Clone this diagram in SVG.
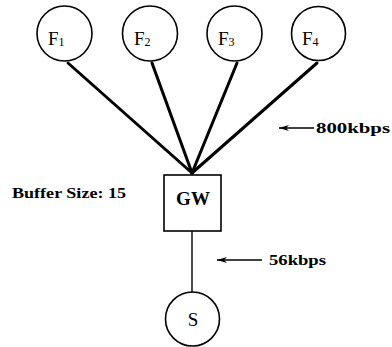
<svg xmlns="http://www.w3.org/2000/svg" width="392" height="347" viewBox="0 0 392 347">
<style>
.node{fill:#fff;stroke:#000;stroke-width:1.6}
.lbl{font-family:"Liberation Serif","DejaVu Serif",serif;font-size:19px;fill:#000}
.sub{font-size:12px}
.ann{font-family:"Liberation Serif","DejaVu Serif",serif;font-size:15px;font-weight:bold;fill:#000}
.thick{stroke:#000;stroke-width:3;fill:none;stroke-linecap:round}
.thin{stroke:#000;stroke-width:1.4;fill:none}
</style>
<defs>
<marker id="ah" viewBox="0 0 10 6" refX="10" refY="3" markerWidth="10" markerHeight="6" markerUnits="userSpaceOnUse" orient="auto">
<path d="M10,3 L0,0 L3,3 L0,6 Z" fill="#000"/>
</marker>
</defs>
<rect width="392" height="347" fill="#fff"/>
<g id="connectors">
<line class="thick" x1="68" y1="63" x2="192" y2="173"/>
<line class="thick" x1="152" y1="63" x2="192" y2="173"/>
<line class="thick" x1="237" y1="63" x2="192" y2="173"/>
<line class="thick" x1="317" y1="63" x2="192" y2="173"/>
<line class="thin" x1="192" y1="231" x2="192" y2="292"/>
</g>
<g id="F1"><circle class="node" cx="64.5" cy="33.5" r="27.5"/><text class="lbl" x="48" y="45">F<tspan class="sub" dy="1">1</tspan></text></g>
<g id="F2"><circle class="node" cx="150" cy="33.5" r="27.5"/><text class="lbl" x="134" y="45">F<tspan class="sub" dy="1">2</tspan></text></g>
<g id="F3"><circle class="node" cx="234.5" cy="33.5" r="27.5"/><text class="lbl" x="218" y="45">F<tspan class="sub" dy="1">3</tspan></text></g>
<g id="F4"><circle class="node" cx="318.5" cy="33.5" r="27"/><text class="lbl" x="302" y="45">F<tspan class="sub" dy="1">4</tspan></text></g>
<g id="GW"><rect class="node" x="164" y="175" width="57" height="56"/><text class="lbl" x="193" y="205" text-anchor="middle" font-weight="bold" font-size="18">GW</text></g>
<g id="S"><circle class="node" cx="192.5" cy="319" r="27"/><text class="lbl" x="193" y="326" text-anchor="middle">S</text></g>
<g id="labels">
<line class="thin" x1="314" y1="128" x2="279" y2="128" marker-end="url(#ah)"/>
<text class="ann" x="316" y="133" textLength="74" lengthAdjust="spacingAndGlyphs">800kbps</text>
<text class="ann" x="12" y="198" textLength="114" lengthAdjust="spacingAndGlyphs">Buffer Size: 15</text>
<line class="thin" x1="262" y1="260" x2="217" y2="260" marker-end="url(#ah)"/>
<text class="ann" x="269" y="265" textLength="57" lengthAdjust="spacingAndGlyphs">56kbps</text>
</g>
</svg>
